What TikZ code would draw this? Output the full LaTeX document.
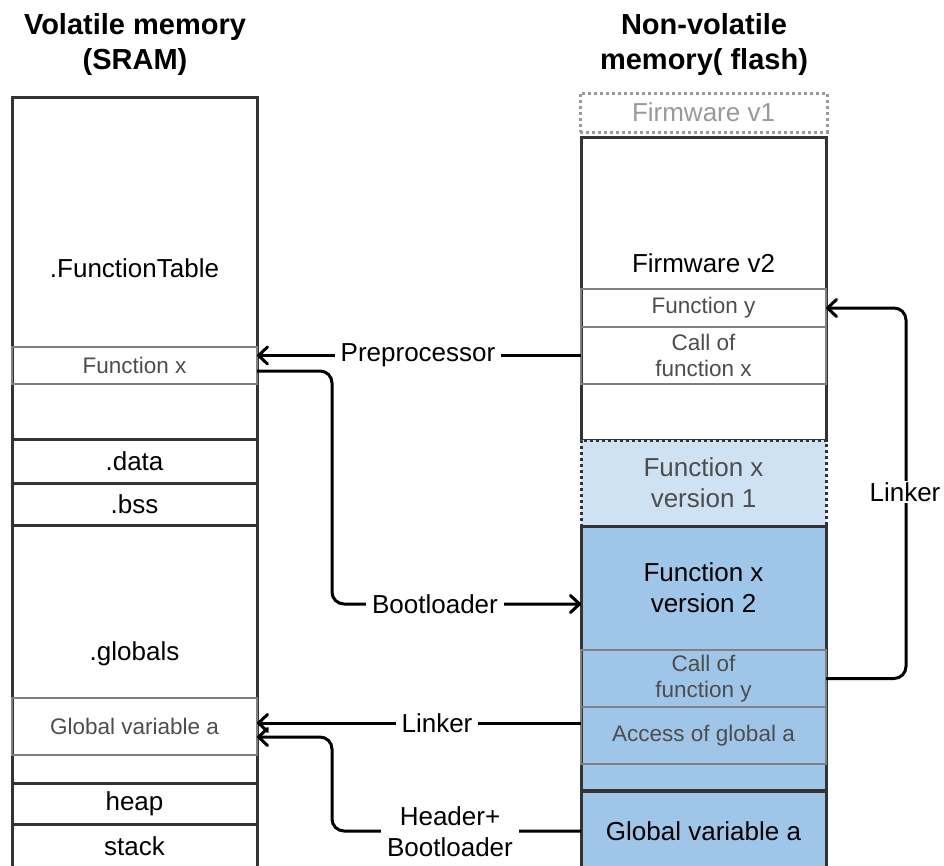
\documentclass[tikz,border=0pt]{standalone}
\usepackage{fontspec}
\setmainfont{Liberation Sans}
\usetikzlibrary{arrows.meta}
\definecolor{bordc}{HTML}{333333}
\definecolor{thinc}{HTML}{808080}
\definecolor{smalltxt}{HTML}{4D4D4D}
\definecolor{fadetxt}{HTML}{999999}
\definecolor{blueA}{HTML}{9FC5E8}
\definecolor{blueB}{HTML}{CFE2F3}
\newcommand\fbig{\fontsize{26}{31}\selectfont}
\newcommand\fsmall{\fontsize{22.5}{26}\selectfont}
\newcommand\ftitle{\bfseries\fontsize{29}{35}\selectfont}
\begin{document}
\begin{tikzpicture}[x=1pt,y=-1pt,
  box/.style={draw=bordc, line width=3pt, minimum width=245pt, inner sep=0pt, outer sep=0pt, font=\fbig, align=center},
  sub/.style={draw=thinc, line width=2pt, minimum width=245pt, inner sep=0pt, outer sep=0pt, font=\fsmall, text=smalltxt, align=center},
  dotbox/.style={line width=3pt, dash pattern=on 3pt off 3pt, minimum width=245pt, inner sep=0pt, outer sep=0pt, font=\fbig, align=center},
  txt/.style={font=\fbig, align=center, inner sep=0pt},
  conn/.style={draw=black, line width=3pt, rounded corners=12pt, -{Straight Barb[length=9pt,width=17pt,line join=round,line cap=round]}},
  lab/.style={fill=white, font=\fbig, align=center, inner xsep=6pt, inner ysep=1pt},
  ttl/.style={font=\ftitle, align=center}
]
\clip (0,0) rectangle (944,865);
\fill[white] (0,0) rectangle (944,865);

% titles
\node[ttl] (t1) at (135,44.5) {Volatile memory\\(SRAM)};
\node[ttl] (t2) at (704,44.5) {Non-volatile\\memory( flash)};

% left column
\node[box, minimum height=342pt] (ft) at (134.5,268) {.FunctionTable};
\node[sub, minimum height=37pt] (fx) at (134.5,365.5) {Function x};
\node[box, minimum height=44pt] (data) at (134.5,461) {.data};
\node[box, minimum height=42pt] (bss) at (134.5,504) {.bss};
\node[box, minimum height=258pt] (glob) at (134.5,654) {.globals};
\node[sub, minimum height=57pt] (gva) at (134.5,726.5) {Global variable a};
\node[box, minimum height=41pt] (heap) at (134.5,803.5) {heap};
\node[box, minimum height=44pt] (stack) at (134.5,846) {stack};

% right column
\node[dotbox, draw=fadetxt, text=fadetxt, minimum width=247pt, minimum height=39pt] (fw1) at (703.5,112.5) {Firmware v1};
\node[box, minimum height=303pt] (fw2) at (703.5,288.5) {};
\node[txt] (fw2l) at (703.5,263) {Firmware v2};
\node[sub, minimum height=38pt] (fy) at (703.5,308) {Function y};
\node[sub, minimum height=57pt] (cfx) at (703.5,355.5) {Call of\\function x};
\node[dotbox, draw=bordc, fill=blueB, text=smalltxt, minimum height=86pt] (v1) at (703.5,483) {Function x\\version 1};
\node[box, fill=blueA, minimum height=264pt] (v2) at (703.5,658) {};
\node[txt] (v2l) at (703.5,588) {Function x\\version 2};
\node[sub, minimum height=57pt] (cfy) at (703.5,678.5) {Call of\\function y};
\node[sub, minimum height=57pt] (aga) at (703.5,735.5) {Access of global a};
\node[box, fill=blueA, minimum height=80pt] (gv) at (703.5,831) {Global variable a};

% connectors
\coordinate (bc) at (332,604);
\coordinate (lx) at (906,0);
\coordinate (hc) at (332,737);

\draw[conn] (cfx.west) -- (fx.east |- cfx.west);
\draw[conn] ([yshift=-5.5pt]fx.east) -| (bc) -- ([yshift=54pt]v2.west);
\draw[conn] (cfy.east) -| (lx |- fy.east) -- (fy.east);
\draw[conn] ([yshift=12.5pt]aga.west) -- ([yshift=3.5pt]gva.east);
\draw[conn] (gv.west) -| (hc) -- ([yshift=-10.5pt]gva.east);

% labels
\node[lab] (l1) at (418,355.5) {Preprocessor};
\node[lab] (l2) at (435,604) {Bootloader};
\node[lab, inner xsep=2pt] (l3) at (905,492) {Linker};
\node[lab] (l4) at (437,723) {Linker};
\node[lab, inner ysep=0pt] (l5) at (450,831.5) {Header+\\Bootloader};
\end{tikzpicture}
\end{document}
